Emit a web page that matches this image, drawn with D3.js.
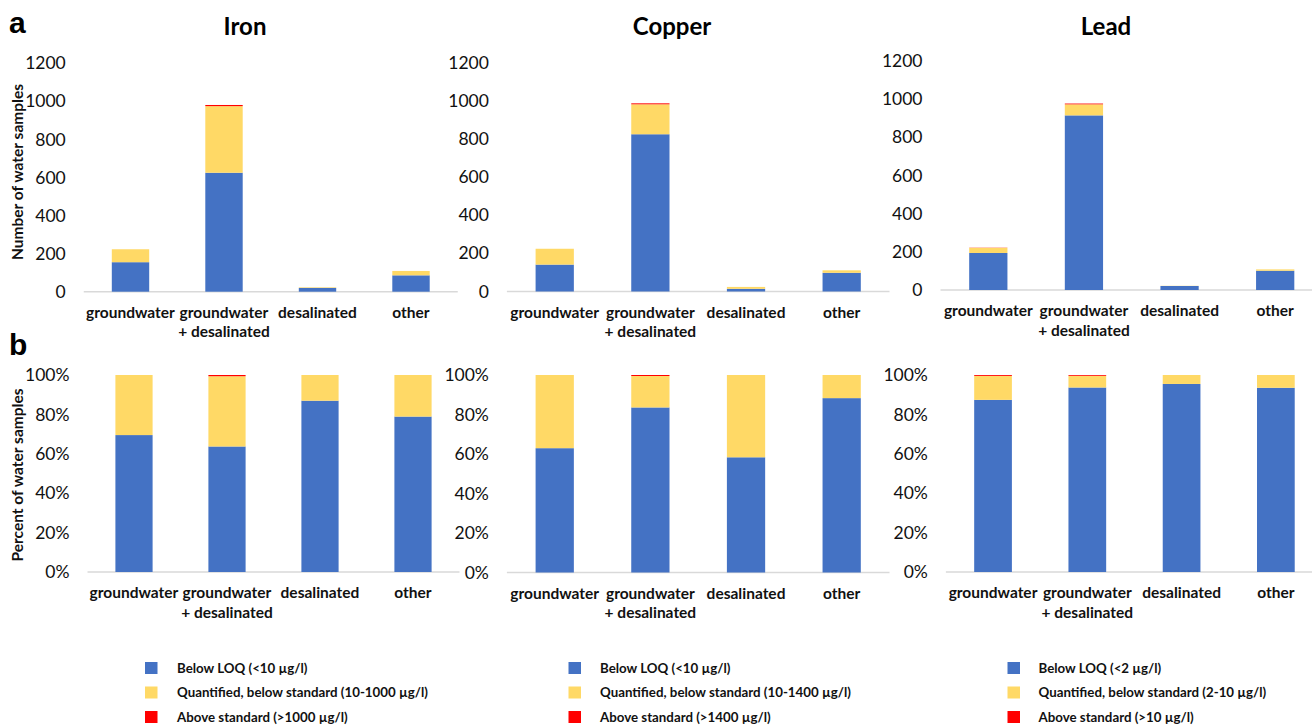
<!DOCTYPE html>
<html>
<head>
<meta charset="utf-8">
<script src="https://cdn.jsdelivr.net/npm/d3@7"></script>
<style>
  html, body { margin: 0; padding: 0; background: #fff; }
  svg { display: block; }
</style>
</head>
<body>
<svg id="chart" width="1312" height="727"></svg>
<script>
// ---- data ----
const categories = ["groundwater", "groundwater + desalinated", "desalinated", "other"];
const categoryLines = [["groundwater"], ["groundwater", "+ desalinated"], ["desalinated"], ["other"]];
const metals = ["Iron", "Copper", "Lead"];
const classes = ["below", "quantified", "above"];

// sample counts per water source
const ironBelowLOQ = [155, 625, 20, 86];
const ironQuantified = [68, 350, 3, 23];
const ironAbove = [0, 6, 0, 0];

const copperBelowLOQ = [141, 824, 14, 98];
const copperQuantified = [83, 157, 10, 13];
const copperAbove = [0, 5, 0, 0];

const leadBelowLOQ = [194, 915, 21, 101];
const leadQuantified = [27, 58, 1, 7];
const leadAbove = [1, 4, 0, 0];

const countTicks = [0, 200, 400, 600, 800, 1000, 1200];
const percentTicks = [0, 0.2, 0.4, 0.6, 0.8, 1];

const ironLegend = ["Below LOQ (<10 µg/l)", "Quantified, below standard (10-1000 µg/l)", "Above standard (>1000 µg/l)"];
const copperLegend = ["Below LOQ (<10 µg/l)", "Quantified, below standard (10-1400 µg/l)", "Above standard (>1400 µg/l)"];
const leadLegend = ["Below LOQ (<2 µg/l)", "Quantified, below standard (2-10 µg/l)", "Above standard (>10 µg/l)"];

// ---- styling / layout ----
const colors = { below: "#4472C4", quantified: "#FFD966", above: "#FF0000" };
const FONT = "Lato, 'Open Sans', sans-serif";

const seriesByMetal = [
  [ironBelowLOQ, ironQuantified, ironAbove],
  [copperBelowLOQ, copperQuantified, copperAbove],
  [leadBelowLOQ, leadQuantified, leadAbove]
];
const legendByMetal = [ironLegend, copperLegend, leadLegend];

const topLayout = [
  { x0: 83.75, x1: 457.75, y0: 291.7, y1: 63.3, title: 245 },
  { x0: 506.9, x1: 889.5, y0: 291.5, y1: 62.5, title: 672 },
  { x0: 940.5, x1: 1323, y0: 290, y1: 61, title: 1106 }
];
const bottomLayout = [
  { x0: 87.5, x1: 459.5, y0: 572, y1: 375 },
  { x0: 506.9, x1: 889.5, y0: 572.5, y1: 375 },
  { x0: 945.9, x1: 1323, y0: 572, y1: 375 }
];
const legendLayout = [
  { sx: 145, tx: 177 },
  { sx: 568.5, tx: 600 },
  { sx: 1007.5, tx: 1038.5 }
];
const legendRows = [668, 692.5, 717];

const svg = d3.select("#chart");

function rowsFor(m) {
  const s = seriesByMetal[m];
  return categories.map((c, i) => ({
    category: c, below: s[0][i], quantified: s[1][i], above: s[2][i]
  }));
}

function drawPanel(m, L, yDomain, ticks, tickFmt, offset) {
  const g = svg.append("g");
  const x = d3.scaleBand().domain(categories).range([L.x0, L.x1]).paddingInner(0.6).paddingOuter(0.3);
  const y = d3.scaleLinear().domain(yDomain).range([L.y0, L.y1]);

  const stack = d3.stack().keys(classes).offset(offset);
  const layers = stack(rowsFor(m));

  // baseline
  g.append("line")
    .attr("x1", L.x0).attr("x2", L.x1)
    .attr("y1", L.y0).attr("y2", L.y0)
    .attr("stroke", "#d9d9d9").attr("stroke-width", 1.5);

  g.selectAll("g.layer").data(layers).join("g")
    .attr("class", "layer")
    .attr("fill", d => colors[d.key])
    .selectAll("rect").data(d => d).join("rect")
    .attr("x", d => x(d.data.category))
    .attr("width", x.bandwidth())
    .attr("y", d => y(d[1]))
    .attr("height", d => Math.max(0, y(d[0]) - y(d[1])));

  // value axis
  const ax = g.append("g")
    .attr("transform", `translate(${L.x0},0)`)
    .call(d3.axisLeft(y).tickValues(ticks).tickSize(0).tickPadding(18).tickFormat(tickFmt));
  ax.select(".domain").remove();
  ax.selectAll("text")
    .attr("font-family", FONT).attr("font-size", 17.5).attr("fill", "#111");

  // category labels
  const lab = g.selectAll("text.cat").data(categories).join("text")
    .attr("class", "cat")
    .attr("text-anchor", "middle")
    .attr("font-family", FONT).attr("font-weight", 700).attr("font-size", 15.5)
    .attr("fill", "#111");
  lab.each(function (c, i) {
    const t = d3.select(this);
    categoryLines[i].forEach((line, k) => {
      t.append("tspan")
        .attr("x", x(c) + x.bandwidth() / 2)
        .attr("y", L.y0 + 26 + k * 19.5)
        .text(line);
    });
  });
}

metals.forEach((name, m) => {
  drawPanel(m, topLayout[m], [0, 1200], countTicks, d3.format("d"), d3.stackOffsetNone);
  drawPanel(m, bottomLayout[m], [0, 1], percentTicks, d3.format(".0%"), d3.stackOffsetExpand);

  svg.append("text")
    .attr("x", topLayout[m].title).attr("y", 35)
    .attr("text-anchor", "middle")
    .attr("font-family", FONT).attr("font-weight", 700).attr("font-size", 24)
    .attr("fill", "#000")
    .text(name);

  // legend
  const lg = svg.append("g");
  const lay = legendLayout[m];
  classes.forEach((k, r) => {
    lg.append("rect")
      .attr("x", lay.sx).attr("y", legendRows[r] - 6)
      .attr("width", 12.5).attr("height", 12)
      .attr("fill", colors[k]);
    lg.append("text")
      .attr("x", lay.tx).attr("y", legendRows[r])
      .attr("dy", "0.35em")
      .attr("font-family", FONT).attr("font-weight", 700).attr("font-size", 13.3)
      .attr("fill", "#111")
      .text(legendByMetal[m][r]);
  });
});

// axis titles
svg.append("text")
  .attr("transform", "translate(18,172) rotate(-90)")
  .attr("text-anchor", "middle").attr("dy", "0.35em")
  .attr("font-family", FONT).attr("font-weight", 700).attr("font-size", 15.5)
  .attr("fill", "#111")
  .text("Number of water samples");
svg.append("text")
  .attr("transform", "translate(18,475) rotate(-90)")
  .attr("text-anchor", "middle").attr("dy", "0.35em")
  .attr("font-family", FONT).attr("font-weight", 700).attr("font-size", 15.5)
  .attr("fill", "#111")
  .text("Percent of water samples");

// panel letters
svg.append("text").attr("x", 9).attr("y", 33)
  .attr("font-family", "'Liberation Sans', Arial, sans-serif").attr("font-weight", 700).attr("font-size", 30)
  .text("a");
svg.append("text").attr("x", 9).attr("y", 355)
  .attr("font-family", "'Liberation Sans', Arial, sans-serif").attr("font-weight", 700).attr("font-size", 30)
  .text("b");
</script>
</body>
</html>
